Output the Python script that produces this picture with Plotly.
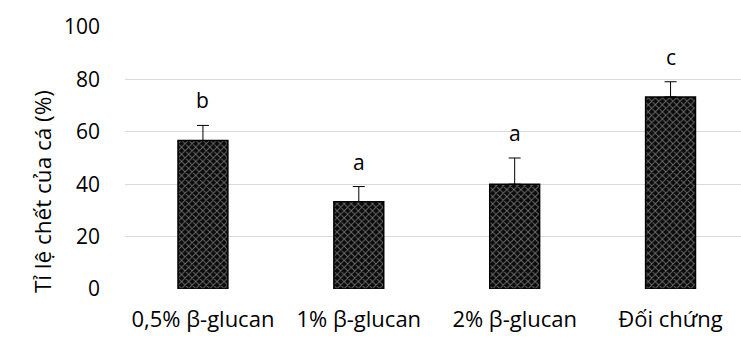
import plotly.graph_objects as go

categories = ["0,5% β-glucan", "1% β-glucan", "2% β-glucan", "Đối chứng"]
mortality = [56.67, 33.33, 40.0, 73.33]
errors = [5.77, 5.77, 10.0, 5.77]
letters = ["b", "a", "a", "c"]
y_ticks = [0, 20, 40, 60, 80, 100]
y_title = "Tỉ lệ chết của cá (%)"

FONT = "Open Sans"
W, H = 741, 337
ml, mr, mt, mb = 124.5, 0, 27, 48

fig = go.Figure()
fig.add_trace(go.Bar(
    x=categories, y=mortality,
    width=0.32,
    marker=dict(
        color="#111111",
        line=dict(color="#000000", width=1.5),
        pattern=dict(shape="x", bgcolor="#0a0a0a", fgcolor="#d0d0d0", size=5, solidity=0.33),
    ),
    error_y=dict(type="data", array=errors, arrayminus=[0]*len(errors), symmetric=False,
                 color="#000000", thickness=1, width=6),
    hoverinfo="skip",
))

for c, v, e, t in zip(categories, mortality, errors, letters):
    fig.add_annotation(x=c, y=v + e, text=t, showarrow=False, yanchor="bottom", yshift=9,
                       font=dict(family=FONT, size=21, color="#000000"))

# y-axis title
fig.add_annotation(xref="paper", yref="paper", x=(24 - ml) / (W - ml - mr), y=(H - mb - 192) / (H - mt - mb),
                   text=y_title, textangle=-90, showarrow=False,
                   font=dict(family=FONT, size=22.5, color="#000000"))

fig.update_layout(
    width=W, height=H,
    margin=dict(l=ml, r=mr, t=mt, b=mb, pad=0),
    plot_bgcolor="white", paper_bgcolor="white",
    showlegend=False,
    font=dict(family=FONT, size=21, color="#000000"),
)
fig.update_xaxes(range=[-0.5, 3.452], showgrid=False, showline=False, ticks="",
                 tickfont=dict(family=FONT, size=22), ticklabelstandoff=15, automargin=False)
fig.update_yaxes(range=[0, 100], tickvals=y_ticks, showgrid=True, gridcolor="#d9d9d9", gridwidth=1.2,
                 zeroline=False, showline=False, ticks="", ticklabelstandoff=24,
                 tickfont=dict(family=FONT, size=21), automargin=False)

fig.write_html("out.html", config={"displayModeBar": False},
               post_script="document.body.style.margin='0';document.body.style.overflow='hidden';")
